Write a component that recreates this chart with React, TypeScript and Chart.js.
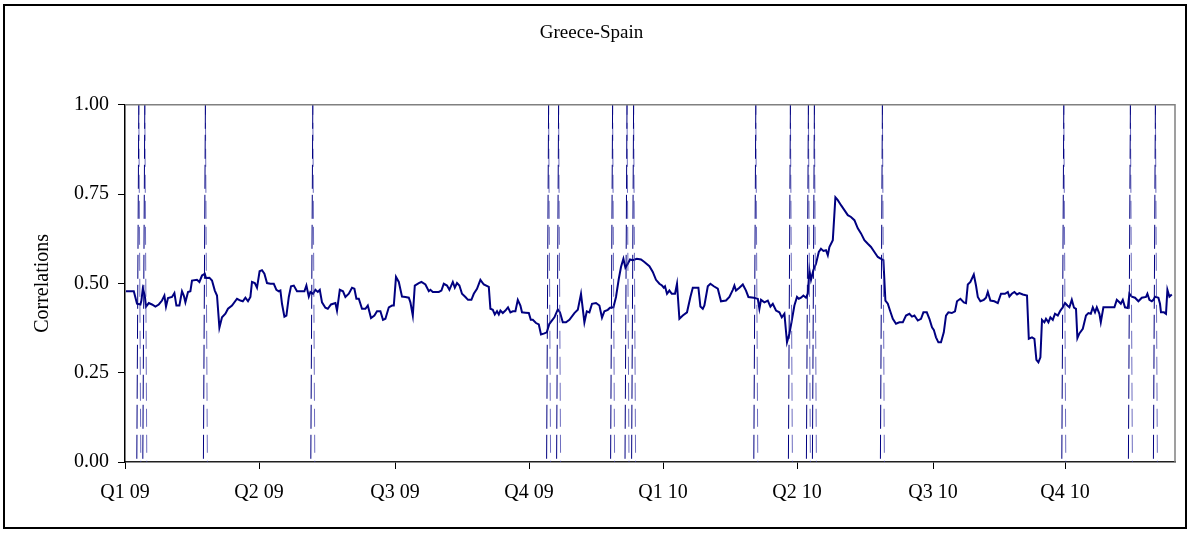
import React, { useEffect, useRef } from 'react';
import { Chart, registerables } from 'chart.js';

Chart.register(...registerables);

const chartTitle = 'Greece-Spain';
const yAxisTitle = 'Correlations';

// x positions are observation (trading-day) indices from the start of 2009
const quarterTicks = [0, 67, 135, 202, 269, 336, 404, 470];
const quarterLabels = ['Q1 09', 'Q2 09', 'Q3 09', 'Q4 09', 'Q1 10', 'Q2 10', 'Q3 10', 'Q4 10'];
const yTickValues = [0, 0.25, 0.5, 0.75, 1];

const obsDays = [
  0.5, 4.4, 6, 7.7, 8.2, 8.9, 9.9, 10.5, 11.9, 13.5, 15.2, 16.9, 18.5, 19.7, 20.5, 21.5, 23.5, 24.7, 25.7, 27.2,
  28.5, 29.4, 30.2, 31.5, 32.7, 33.5, 36, 37.2, 38.5, 39.9, 40.5, 42.2, 43.5, 44.9, 46, 47.2, 48.5, 50.2, 51.5, 53.5,
  56, 57.7, 58.9, 60.2, 61.5, 62.7, 63.5, 64.9, 66, 67.3, 68.5, 69.7, 71, 72.7, 74.4, 75.7, 76.9, 77.7, 78.5, 79.7,
  80.7, 81.9, 83, 84.4, 86, 89.7, 90.7, 91.9, 92.7, 94, 95.2, 96.4, 97.4, 98.5, 100.2, 101.4, 103, 105.2, 106, 107.4,
  109, 110.2, 111.9, 113.5, 114.7, 115.7, 116.9, 118.5, 120.2, 121.4, 123, 124.7, 126, 127.7, 129, 130.2, 131.9, 133.5, 134.4, 135.5,
  136.9, 138.5, 140.2, 141.9, 142.7, 143.9, 144.9, 146.9, 148.2, 150.2, 151.9, 152.7, 153.9, 156.9, 158.2, 159.4, 161, 162.2, 163.9, 164.9,
  166, 167.2, 168.5, 170.2, 171.5, 173.2, 174.4, 176, 177.7, 179.4, 181.9, 182.7, 183.9, 184.9, 186, 186.9, 187.7, 188.9, 190.2, 191.5,
  192.7, 193.9, 195.2, 196.4, 197.7, 198.5, 200.2, 201.9, 202.9, 203.9, 205.5, 206.9, 208, 209.7, 210.9, 212.2, 214.7, 216.4, 217.5, 218.9,
  220.5, 222.2, 224.7, 226.4, 228, 229.7, 230.9, 232.2, 233.5, 235.5, 237.2, 238.5, 239.7, 241.4, 242.5, 244.2, 245.5, 246.9, 248, 249.2,
  250.2, 251.4, 252.5, 253.9, 255.9, 258, 259.7, 262.2, 263.9, 265.5, 267.2, 268.5, 269.4, 270, 271, 272.2, 273.4, 275, 276, 277.2,
  278.9, 281, 282.7, 283.9, 286.7, 287.7, 288.9, 289.7, 291.4, 292.7, 294.4, 296.4, 298, 300.5, 302.2, 303.9, 304.7, 305.5, 307.2, 308.9,
  310.5, 311.7, 314.4, 316.4, 317.2, 318, 319.7, 321.4, 322.7, 323.9, 325.5, 327.2, 328.4, 329.7, 331, 332.2, 333.4, 334.7, 336, 336.9,
  338, 339.2, 340.5, 341.4, 342.2, 343, 344.2, 345.5, 346.9, 348, 349.2, 350.5, 351.4, 352.2, 353.9, 355.2, 356.4, 358, 359.7, 361.4,
  363, 364.7, 366.4, 368, 369.7, 371.4, 373, 374.7, 376.4, 378, 379.2, 380.2, 381.4, 382.5, 383.9, 385.5, 387.2, 388.9, 390.5, 392.2,
  393.5, 394.7, 396.4, 398, 399.2, 400.9, 402.2, 403.5, 404.4, 405.5, 406.7, 408, 409.4, 410.5, 411.7, 413.4, 415, 416, 417.7, 419.4,
  420.5, 421.4, 422.7, 424.4, 425.5, 426.4, 427.7, 429.4, 430.5, 431.4, 432.7, 434.7, 436.4, 438, 440, 441.4, 442.2, 443.4, 444.7, 446,
  447.2, 448.9, 451, 451.9, 453.5, 454.7, 455.7, 456.7, 457.7, 458.5, 459.7, 460.5, 461.7, 462.7, 463.9, 465, 466.4, 467.7, 468.9, 470,
  471.2, 472.2, 473.4, 474.5, 475.5, 476.2, 477.2, 478.9, 480.5, 481.7, 482.9, 483.9, 485, 485.9, 487.2, 487.9, 489.2, 494.7, 495.9, 497.2,
  497.9, 498.9, 500, 501.4, 502.2, 503.4, 505, 506.7, 508.4, 510.5, 511.2, 512.2, 513.4, 514.2, 515, 516.7, 517.5, 518, 519.5, 520.5,
  521.2, 522.2, 523.4,
];

const correlations = [
  0.478, 0.478, 0.443, 0.441, 0.452, 0.485, 0.466, 0.435, 0.445, 0.441, 0.435, 0.441, 0.452, 0.466, 0.435, 0.459, 0.462, 0.473, 0.438, 0.438,
  0.478, 0.466, 0.447, 0.476, 0.478, 0.508, 0.510, 0.504, 0.522, 0.527, 0.515, 0.516, 0.508, 0.480, 0.466, 0.376, 0.405, 0.415, 0.429, 0.438,
  0.457, 0.452, 0.450, 0.460, 0.450, 0.462, 0.504, 0.501, 0.488, 0.534, 0.537, 0.527, 0.501, 0.499, 0.499, 0.482, 0.478, 0.480, 0.443, 0.407,
  0.410, 0.462, 0.492, 0.494, 0.478, 0.478, 0.494, 0.463, 0.476, 0.471, 0.482, 0.476, 0.482, 0.447, 0.432, 0.429, 0.441, 0.445, 0.424, 0.482,
  0.478, 0.462, 0.471, 0.488, 0.485, 0.457, 0.457, 0.429, 0.429, 0.438, 0.403, 0.410, 0.422, 0.422, 0.398, 0.401, 0.433, 0.438, 0.438, 0.518,
  0.504, 0.463, 0.462, 0.460, 0.447, 0.410, 0.494, 0.501, 0.504, 0.497, 0.478, 0.482, 0.476, 0.476, 0.480, 0.499, 0.494, 0.482, 0.504, 0.488,
  0.501, 0.494, 0.471, 0.462, 0.454, 0.454, 0.471, 0.485, 0.510, 0.497, 0.490, 0.429, 0.426, 0.413, 0.422, 0.413, 0.424, 0.417, 0.424, 0.433,
  0.419, 0.422, 0.422, 0.454, 0.438, 0.419, 0.418, 0.417, 0.398, 0.398, 0.389, 0.385, 0.357, 0.360, 0.363, 0.387, 0.405, 0.427, 0.419, 0.391,
  0.391, 0.398, 0.417, 0.426, 0.471, 0.391, 0.422, 0.419, 0.443, 0.445, 0.438, 0.404, 0.422, 0.426, 0.432, 0.433, 0.462, 0.513, 0.546, 0.569,
  0.544, 0.555, 0.567, 0.565, 0.569, 0.567, 0.560, 0.548, 0.532, 0.510, 0.499, 0.494, 0.488, 0.492, 0.471, 0.480, 0.471, 0.471, 0.499, 0.401,
  0.410, 0.419, 0.462, 0.488, 0.488, 0.435, 0.429, 0.438, 0.492, 0.499, 0.492, 0.485, 0.450, 0.452, 0.462, 0.482, 0.494, 0.480, 0.488, 0.497,
  0.480, 0.462, 0.460, 0.457, 0.429, 0.454, 0.447, 0.452, 0.435, 0.443, 0.424, 0.419, 0.405, 0.415, 0.335, 0.359, 0.396, 0.438, 0.462, 0.457,
  0.460, 0.466, 0.460, 0.471, 0.537, 0.510, 0.537, 0.555, 0.588, 0.597, 0.591, 0.593, 0.579, 0.602, 0.621, 0.741, 0.733, 0.719, 0.705, 0.691,
  0.686, 0.677, 0.654, 0.640, 0.621, 0.611, 0.602, 0.588, 0.574, 0.569, 0.565, 0.452, 0.443, 0.424, 0.401, 0.387, 0.391, 0.391, 0.410, 0.415,
  0.407, 0.410, 0.396, 0.401, 0.419, 0.419, 0.401, 0.377, 0.370, 0.349, 0.335, 0.335, 0.363, 0.410, 0.419, 0.417, 0.422, 0.450, 0.457, 0.447,
  0.445, 0.497, 0.504, 0.525, 0.494, 0.462, 0.450, 0.454, 0.460, 0.476, 0.452, 0.450, 0.445, 0.471, 0.471, 0.476, 0.463, 0.471, 0.476, 0.469,
  0.473, 0.469, 0.466, 0.345, 0.349, 0.345, 0.286, 0.279, 0.293, 0.398, 0.391, 0.401, 0.391, 0.405, 0.398, 0.415, 0.410, 0.424, 0.433, 0.445,
  0.438, 0.433, 0.454, 0.432, 0.429, 0.347, 0.360, 0.373, 0.410, 0.417, 0.415, 0.433, 0.419, 0.433, 0.415, 0.391, 0.433, 0.433, 0.454, 0.447,
  0.443, 0.454, 0.433, 0.431, 0.471, 0.463, 0.460, 0.450, 0.460, 0.462, 0.471, 0.454, 0.450, 0.454, 0.463, 0.460, 0.443, 0.419, 0.419, 0.415,
  0.482, 0.463, 0.469,
];

// event dates marked with dashed vertical lines
const eventDays = [6.9, 9.9, 40.2, 93.9, 211.8, 216.8, 243.8, 251, 254.3, 315.4, 332.7, 341.7, 344.7, 378.7, 469.4, 502.7, 515.2];

const FONT = '"Liberation Serif", "Times New Roman", serif';

export default function App() {
  const ref = useRef<HTMLCanvasElement | null>(null);

  useEffect(() => {
    document.body.style.margin = '0';
    const canvas = ref.current;
    if (!canvas) return;

    const eventSets: any[] = [];
    eventDays.forEach((d) => {
      eventSets.push({
        type: 'line',
        data: [{ x: d, y: 1 }, { x: d - 1, y: 0 }],
        borderColor: '#000080',
        borderWidth: 1,
        borderDash: [24, 6],
        pointRadius: 0,
        fill: false,
      });
      eventSets.push({
        type: 'line',
        data: [{ x: d, y: 1 }, { x: d + 1, y: 0 }],
        borderColor: 'rgba(60,60,170,0.75)',
        borderWidth: 1,
        borderDash: [18, 8],
        borderDashOffset: 8,
        pointRadius: 0,
        fill: false,
      });
    });

    const series = {
      type: 'line',
      data: obsDays.map((x, i) => ({ x, y: correlations[i] })),
      borderColor: '#000080',
      borderWidth: 2,
      pointRadius: 0,
      tension: 0,
      fill: false,
    };

    const framePlugin = {
      id: 'frame',
      beforeDraw(chart: any) {
        const c = chart.ctx;
        c.save();
        c.fillStyle = '#ffffff';
        c.fillRect(0, 0, chart.width, chart.height);
        c.strokeStyle = '#000000';
        c.lineWidth = 2;
        c.strokeRect(4, 5, chart.width - 9, chart.height - 11);
        c.restore();
      },
      afterDatasetsDraw(chart: any) {
        const { left, right, top, bottom } = chart.chartArea;
        const c = chart.ctx;
        c.save();
        c.strokeStyle = '#808080';
        c.lineWidth = 1.5;
        c.beginPath();
        c.moveTo(left, top);
        c.lineTo(right, top);
        c.lineTo(right, bottom);
        c.stroke();
        c.restore();
      },
    };

    const chart = new Chart(canvas, {
      type: 'line',
      data: { datasets: [...eventSets, series] as any },
      options: {
        animation: false,
        responsive: false,
        maintainAspectRatio: false,
        parsing: false as any,
        layout: { padding: { left: 8, right: 16, top: 0, bottom: 8 } },
        plugins: {
          legend: { display: false },
          tooltip: { enabled: false },
          title: {
            display: true,
            text: chartTitle,
            color: '#000',
            font: { family: FONT, size: 19, weight: 'normal' },
            padding: { top: 22, bottom: 60 },
          },
        },
        scales: {
          x: {
            type: 'linear',
            min: 0,
            max: 525,
            afterBuildTicks: (scale: any) => {
              scale.ticks = quarterTicks.map((v) => ({ value: v }));
            },
            afterFit: (scale: any) => {
              scale.height = 64;
            },
            ticks: {
              autoSkip: false,
              maxRotation: 0,
              padding: 12,
              color: '#000',
              font: { family: FONT, size: 20 },
              callback: (_v: any, i: number) => quarterLabels[i],
            },
            grid: { display: true, drawOnChartArea: false, drawTicks: true, tickLength: 7, color: '#000', tickColor: '#000' },
            border: { display: true, color: '#202020', width: 1.5 },
          },
          y: {
            type: 'linear',
            min: 0,
            max: 1,
            afterBuildTicks: (scale: any) => {
              scale.ticks = yTickValues.map((v) => ({ value: v }));
            },
            afterFit: (scale: any) => {
              scale.width = 117;
            },
            title: {
              display: true,
              text: yAxisTitle,
              color: '#000',
              font: { family: FONT, size: 20 },
              padding: { top: 23, bottom: 0 },
            },
            ticks: {
              padding: 9,
              color: '#000',
              font: { family: FONT, size: 20 },
              callback: (v: any) => Number(v).toFixed(2),
            },
            grid: { display: true, drawOnChartArea: false, drawTicks: true, tickLength: 7, color: '#000', tickColor: '#000' },
            border: { display: true, color: '#000', width: 1.5 },
          },
        },
      },
      plugins: [framePlugin],
    } as any);

    return () => chart.destroy();
  }, []);

  return (
    <div style={{ width: 1191, height: 534 }}>
      <canvas ref={ref} width={1191} height={534} style={{ display: 'block', width: 1191, height: 534 }} />
    </div>
  );
}
